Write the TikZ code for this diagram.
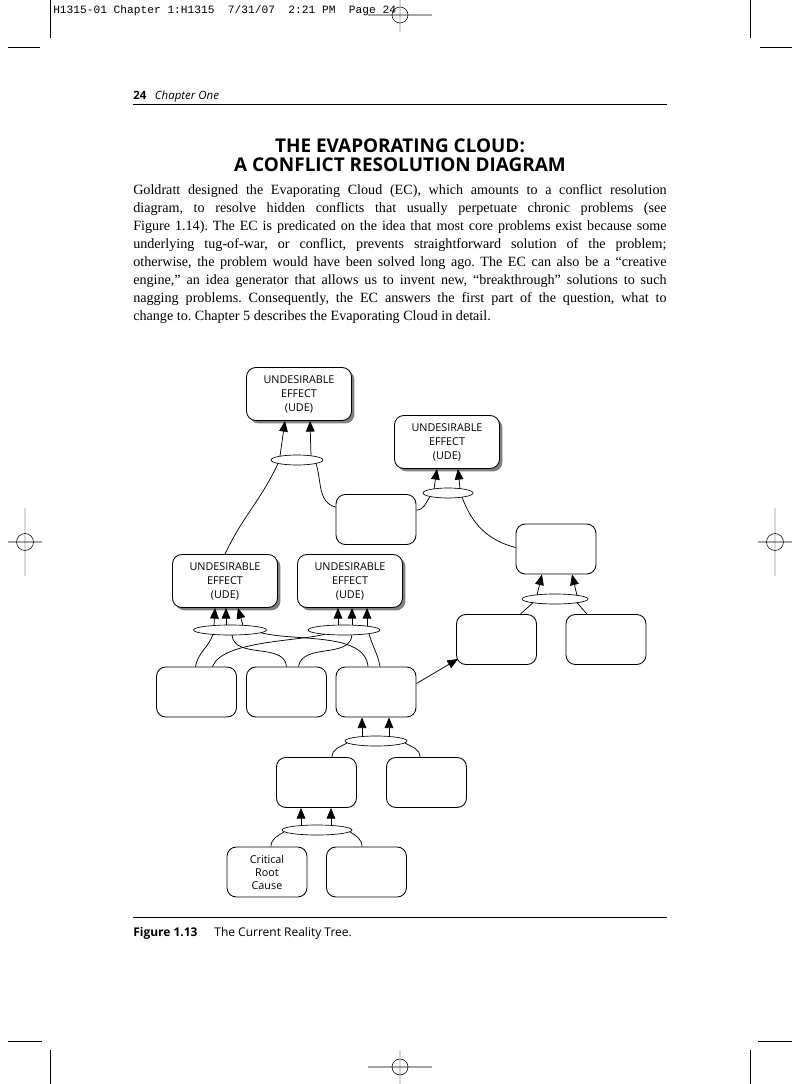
\documentclass[tikz,border=0pt]{standalone}
\usepackage{fontspec}
\setmainfont{Liberation Serif}
\setsansfont{Open Sans}
\setmonofont{Liberation Mono}
\usetikzlibrary{arrows.meta}
\usetikzlibrary{shapes}
\usetikzlibrary{shadows}
\usetikzlibrary{calc}

\begin{document}
\begin{tikzpicture}[x=0.75pt,y=0.75pt]
   \tikzset{UDEStyle/.style={draw, line width=0.65pt, rounded corners=7pt, fill=white,
      minimum width=78.75pt, minimum height=39.75pt, inner sep=0pt, align=center,
      font=\sffamily\fontsize{8.1}{10.5}\selectfont,
      drop shadow={shadow xshift=2.2pt, shadow yshift=-2.2pt, fill=black!50, opacity=1}}}
   \tikzset{BoxStyle/.style={draw, line width=0.65pt, rounded corners=7pt,
      minimum width=60pt, minimum height=37.5pt, inner sep=0pt, align=center,
      font=\sffamily\fontsize{8.1}{9.75}\selectfont}}
   \tikzset{AndStyle/.style={draw, ellipse, line width=0.5pt, minimum height=7.5pt, inner sep=0pt}}
   \tikzset{ArrowStyle/.style={line width=0.55pt, -{Triangle[length=8pt,width=6.5pt]}}}
   \tikzset{LinkStyle/.style={line width=0.55pt}}
   \tikzset{MarkStyle/.style={line width=0.4pt}}
   \tikzset{RegStyle/.style={line width=2pt, black!15}}
   \useasboundingbox (0,0) rectangle (800,-1084);
   % crop and registration marks
   \draw[MarkStyle] (50,0) -- (50,-38) (8,-47) -- (40,-47);
   \draw[MarkStyle] (750,0) -- (750,-38) (760,-47) -- (792,-47);
   \draw[MarkStyle] (50,-1084) -- (50,-1050) (8,-1041) -- (42,-1041);
   \draw[MarkStyle] (750,-1084) -- (750,-1050) (758,-1041) -- (792,-1041);
   \draw[RegStyle] (400,0) -- (400,-32) (400,-1050) -- (400,-1084);
   \draw[RegStyle] (25,-508) -- (25,-576) (775,-508) -- (775,-576);
   \draw[MarkStyle] (400,-15) circle (8) (368,-15) -- (432,-15);
   \draw[MarkStyle] (400,-1067) circle (8) (368,-1067) -- (432,-1067);
   \draw[MarkStyle] (25,-542) circle (8.5) (8,-542) -- (42,-542);
   \draw[MarkStyle] (775,-542) circle (8.5) (758,-542) -- (792,-542);
   % page text
   \node[anchor=base west, inner sep=0pt, font=\ttfamily\fontsize{8.4}{10}\selectfont] (slug) at (53,-14)
      {H1315-01 Chapter 1:H1315~~7/31/07~~2:21 PM~~Page 24};
   \node[anchor=base west, inner sep=0pt, font=\sffamily\fontsize{8.6}{10}\selectfont] (runhead) at (133,-100)
      {\textbf{24}\hspace{0.75em}\textit{Chapter One}};
   \draw[line width=0.7pt] (133,-104) -- (667,-104);
   \node[anchor=base, inner sep=0pt, font=\sffamily\bfseries\fontsize{14.2}{16}\selectfont] (title1) at (400,-153)
      {THE EVAPORATING CLOUD:};
   \node[anchor=base, inner sep=0pt, font=\sffamily\bfseries\fontsize{14.2}{16}\selectfont] (title2) at (400,-172)
      {A CONFLICT RESOLUTION DIAGRAM};
   \node[anchor=base west, inner sep=0pt, text width=400pt, align=justify,
      font=\frenchspacing\fontsize{10.6}{13.4}\selectfont] (para) at (133,-195)
      {Goldratt designed the Evaporating Cloud (EC), which amounts to a conflict resolution\linebreak
       diagram, to resolve hidden conflicts that usually perpetuate chronic problems (see\linebreak
       Figure~1.14). The EC is predicated on the idea that most core problems exist because some\linebreak
       underlying tug-of-war, or conflict, prevents straightforward solution of the problem;\linebreak
       otherwise, the problem would have been solved long ago. The EC can also be a “creative\linebreak
       engine,” an idea generator that allows us to invent new, “breakthrough” solutions to such\linebreak
       nagging problems. Consequently, the EC answers the first part of the question, what to\linebreak
       change to. Chapter 5 describes the Evaporating Cloud in detail.};
   % the tree
   \node[UDEStyle] (ude1) at (299,-394) {UNDESIRABLE\\EFFECT\\(UDE)};
   \node[UDEStyle] (ude2) at (447,-442) {UNDESIRABLE\\EFFECT\\(UDE)};
   \node[UDEStyle] (ude3) at (225,-581) {UNDESIRABLE\\EFFECT\\(UDE)};
   \node[UDEStyle] (ude4) at (350,-581) {UNDESIRABLE\\EFFECT\\(UDE)};
   \node[BoxStyle] (b1) at (376,-519.5) {};
   \node[BoxStyle] (b2) at (556,-549) {};
   \node[BoxStyle] (b3) at (496.5,-639.5) {};
   \node[BoxStyle] (b4) at (606,-639.5) {};
   \node[BoxStyle] (b6) at (196.5,-692) {};
   \node[BoxStyle] (b7) at (286.5,-692) {};
   \node[BoxStyle] (b5) at (376,-692) {};
   \node[BoxStyle] (b8) at (316.5,-782.5) {};
   \node[BoxStyle] (b9) at (426.5,-782.5) {};
   \node[BoxStyle] (crc) at (267,-872) {Critical\\Root\\Cause};
   \node[BoxStyle] (b10) at (366.5,-872) {};
   \node[AndStyle, minimum width=39pt] (e1) at (297,-460) {};
   \node[AndStyle, minimum width=37.5pt] (e2) at (448,-493) {};
   \node[AndStyle, minimum width=49.5pt] (e3) at (555,-599) {};
   \node[AndStyle, minimum width=54.75pt] (e4) at (230,-630) {};
   \node[AndStyle, minimum width=54pt] (e5) at (344,-630) {};
   \node[AndStyle, minimum width=46.5pt] (e6) at (376,-741) {};
   \node[AndStyle, minimum width=52.5pt] (e7) at (317,-830) {};
   % sufficiency arrows
   \draw[ArrowStyle] ($(e1)+(-17,4)$) -- ($(ude1.south)+(-14,0)$);
   \draw[ArrowStyle] ($(e1)+(14,4)$) -- ($(ude1.south)+(11,0)$);
   \draw[ArrowStyle] ($(e2)+(-14,4)$) -- ($(ude2.south)+(-10,0)$);
   \draw[ArrowStyle] ($(e2)+(12,4)$) -- ($(ude2.south)+(11,0)$);
   \draw[ArrowStyle] ($(e3)+(-18,4)$) -- ($(b2.south)+(-14,0)$);
   \draw[ArrowStyle] ($(e3)+(22,3.7)$) -- ($(b2.south)+(16,0)$);
   \draw[ArrowStyle] ($(e4)+(-16,4.4)$) -- ($(ude3.south)+(-10,0)$);
   \draw[ArrowStyle] ($(e4)+(-4,4.8)$) -- ($(ude3.south)+(1,0)$);
   \draw[ArrowStyle] ($(e4)+(13,4.6)$) -- ($(ude3.south)+(13,0)$);
   \draw[ArrowStyle] ($(e5)+(-6,4.9)$) -- ($(ude4.south)+(-12,0)$);
   \draw[ArrowStyle] ($(e5)+(8,4.8)$) -- ($(ude4.south)+(2,0)$);
   \draw[ArrowStyle] ($(e5)+(23,3.8)$) -- ($(ude4.south)+(17,0)$);
   \draw[ArrowStyle] ($(e6)+(-14,4.4)$) -- ($(b5.south)+(-14,0)$);
   \draw[ArrowStyle] ($(e6)+(13,4.5)$) -- ($(b5.south)+(13,0)$);
   \draw[ArrowStyle] ($(e7)+(-16,4.4)$) -- ($(b8.south)+(-15.5,0)$);
   \draw[ArrowStyle] ($(e7)+(14,4.5)$) -- ($(b8.south)+(14.5,0)$);
   \draw[ArrowStyle] ($(b5.north east)+(0,-17)$) -- ($(b3.south west)+(2,6)$);
   % causes into the ellipses
   \draw[LinkStyle] ($(e1)+(-19,-3.5)$) to[out=245,in=65] (ude3.north);
   \draw[LinkStyle] ($(e1)+(19,-3.5)$) to[out=-72,in=165] ($(b1.north west)+(0,-13)$);
   \draw[LinkStyle] ($(b1.north east)+(0,-16)$) to[out=0,in=235] ($(e2)+(-18,-3.5)$);
   \draw[LinkStyle] ($(e2)+(14,-4)$) to[out=-70,in=165] ($(b2.north west)+(0,-24)$);
   \draw[LinkStyle] ($(e3)+(-22,-3.7)$) -- ($(b3.north)+(24,0)$);
   \draw[LinkStyle] ($(e3)+(22,-3.7)$) -- ($(b4.north)+(-19,0)$);
   \draw[LinkStyle] ($(e4)+(-17,-4.4)$) to[out=250,in=80] ($(b6.north)+(-1,0)$);
   \draw[LinkStyle] ($(e4)+(2,-5)$) to[out=-85,in=95] ($(b7.north)+(0,0)$);
   \draw[LinkStyle] ($(e4)+(31,-2.7)$) to[out=-15,in=95,looseness=0.8] ($(b5.north)+(-8,0)$);
   \draw[LinkStyle] ($(e5)+(-19,-4.2)$) to[out=195,in=70,looseness=0.6] ($(b6.north)+(16,0)$);
   \draw[LinkStyle] ($(e5)+(8,-4.8)$) to[out=-95,in=80] ($(b7.north)+(12,0)$);
   \draw[LinkStyle] ($(e5)+(25,-3.6)$) to[out=-75,in=100] ($(b5.north)+(4,0)$);
   \draw[LinkStyle] ($(e6)+(-29,-2)$) to[out=210,in=90] ($(b8.north)+(15.5,0)$);
   \draw[LinkStyle] ($(e6)+(29,-2)$) to[out=-30,in=90] ($(b9.north)+(-6.5,0)$);
   \draw[LinkStyle] ($(e7)+(-33,-2)$) to[out=210,in=90] ($(crc.north)+(4,0)$);
   \draw[LinkStyle] ($(e7)+(33,-2)$) to[out=-30,in=90] ($(b10.north)+(-4.5,0)$);
   % caption
   \draw[line width=0.7pt] (133,-917) -- (667,-917);
   \node[anchor=base west, inner sep=0pt, font=\sffamily\fontsize{9}{10}\selectfont] (caption) at (133,-936)
      {\textbf{Figure 1.13}\hspace{1.4em}The Current Reality Tree.};
\end{tikzpicture}
\end{document}
